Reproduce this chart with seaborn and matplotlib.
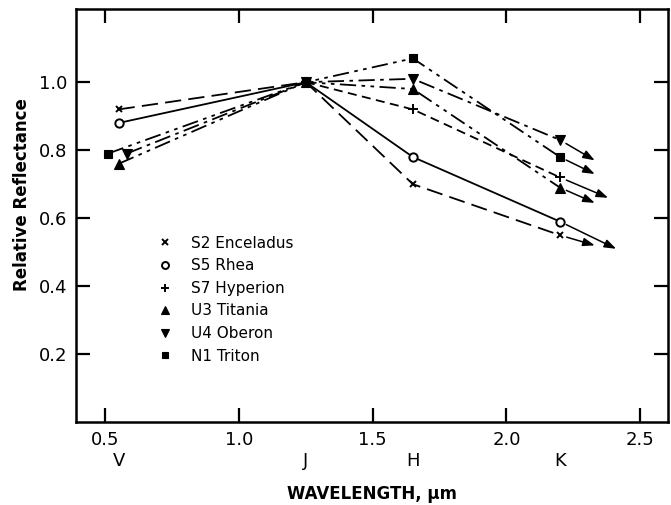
import matplotlib
matplotlib.use("Agg")
import matplotlib.pyplot as plt
import seaborn as sns
import pandas as pd
from matplotlib.lines import Line2D

sns.set_style("ticks")
plt.rcParams['font.family'] = ['DejaVu Sans']
plt.rcParams.update({"text.color": "black", "axes.labelcolor": "black",
                     "xtick.color": "black", "ytick.color": "black",
                     "axes.edgecolor": "black"})

# ---- data ----
names = ["S2 Enceladus", "S5 Rhea", "S7 Hyperion", "U3 Titania", "U4 Oberon", "N1 Triton"]
x_enceladus = [0.55, 1.25, 1.65, 2.20]
y_enceladus = [0.92, 1.00, 0.70, 0.55]
x_rhea = [0.55, 1.25, 1.65, 2.20]
y_rhea = [0.88, 1.00, 0.78, 0.59]
x_hyperion = [1.25, 1.65, 2.20]
y_hyperion = [1.00, 0.92, 0.72]
x_titania = [0.55, 1.25, 1.65, 2.20]
y_titania = [0.76, 1.00, 0.98, 0.69]
x_oberon = [0.58, 1.25, 1.65, 2.20]
y_oberon = [0.79, 1.00, 1.01, 0.83]
x_triton = [0.51, 1.25, 1.65, 2.20]
y_triton = [0.79, 1.00, 1.07, 0.78]
# arrow end points (upper limits extending beyond K)
arrow_end_x = [2.33, 2.41, 2.38, 2.33, 2.33, 2.33]
arrow_end_y = [0.52, 0.51, 0.66, 0.645, 0.77, 0.73]

band_letters = ["V", "J", "H", "K"]
band_pos = [0.55, 1.25, 1.65, 2.20]
xticks = [0.5, 1.0, 1.5, 2.0, 2.5]
xtick_labels = ["0.5", "1.0", "1.5", "2.0", "2.5"]
yticks = [0.2, 0.4, 0.6, 0.8, 1.0]
ytick_labels = ["0.2", "0.4", "0.6", "0.8", "1.0"]

xs = [x_enceladus, x_rhea, x_hyperion, x_titania, x_oberon, x_triton]
ys = [y_enceladus, y_rhea, y_hyperion, y_titania, y_oberon, y_triton]
markers = ["x", "o", "+", "^", "v", "s"]
facecolors = ["black", "white", "black", "black", "black", "black"]
msizes = [5, 6, 7, 6.5, 6.5, 6]
styles = [(0, (9, 4)), "-", (0, (5, 3)), (0, (9, 3, 2, 3, 2, 3)), (0, (9, 3, 2, 3)),
          (0, (9, 3, 2, 3, 2, 3))]

fig = plt.figure(figsize=(6.71, 5.05), dpi=100)
ax = fig.add_axes([0.113, 0.164, 0.883, 0.818])

for i in range(len(names)):
    df = pd.DataFrame({"x": xs[i], "y": ys[i]})
    sns.lineplot(data=df, x="x", y="y", ax=ax, color="black", sort=False,
                 estimator=None, linestyle=styles[i], linewidth=1.3,
                 marker=markers[i], markersize=msizes[i],
                 markerfacecolor=facecolors[i], markeredgecolor="black",
                 markeredgewidth=1.4 if markers[i] in ("x", "+", "o") else 0.8)
    ax.annotate("", xy=(arrow_end_x[i], arrow_end_y[i]),
                xytext=(xs[i][-1], ys[i][-1]),
                arrowprops=dict(arrowstyle="-|>,head_length=0.7,head_width=0.25",
                                color="black", lw=1.1, shrinkA=5, shrinkB=0))

ax.set_xlim(0.39, 2.605)
ax.set_ylim(0.0, 1.215)
ax.set_xticks(xticks)
ax.set_xticklabels(xtick_labels)
ax.set_yticks(yticks)
ax.set_yticklabels(ytick_labels)
ax.tick_params(axis="both", which="major", direction="in", length=10, width=1.6,
               top=True, right=True, labelsize=13, pad=6)
for s in ax.spines.values():
    s.set_linewidth(1.8)
    s.set_visible(True)

for b, p in zip(band_letters, band_pos):
    ax.text(p, -0.094, b, transform=ax.get_xaxis_transform(), ha="center",
            va="center", fontsize=13)

ax.set_xlabel("WAVELENGTH, µm", fontsize=12, fontweight="bold", va="center")
ax.xaxis.set_label_coords(0.5, -0.174)
ax.set_ylabel("Relative Reflectance", fontsize=12, fontweight="bold", va="center")
ax.yaxis.set_label_coords(-0.09, 0.55)

handles = [Line2D([], [], linestyle="none", marker=markers[i], color="black",
                  markerfacecolor=facecolors[i], markersize=msizes[i] - 1,
                  markeredgewidth=1.4 if markers[i] in ("x", "+", "o") else 0.8)
           for i in range(len(names))]
ax.legend(handles, names, loc="upper left", bbox_to_anchor=(0.115, 0.485),
          frameon=False, fontsize=11, handletextpad=1.2, labelspacing=0.5,
          handlelength=1.0, labelcolor="black")

fig.savefig("out.png", dpi=100)
